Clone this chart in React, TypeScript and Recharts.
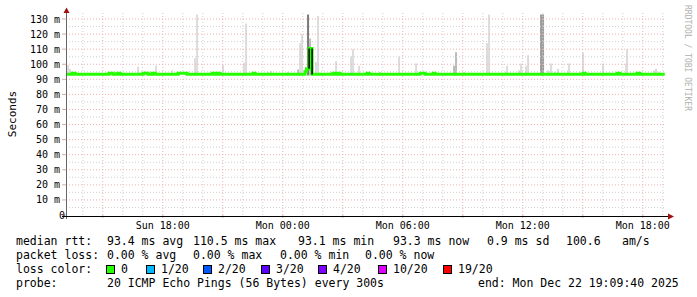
import { Bar, ComposedChart, Line, ReferenceLine, XAxis, YAxis } from "recharts"

const FONT = "'DejaVu Sans Mono', monospace"

// "Sun 13:16" -> minutes since Sun 00:00
const toMin = (s: string) =>
  (s.startsWith("Mon") ? 1440 : 0) + Number(s.slice(4, 6)) * 60 + Number(s.slice(7, 9))

// 30 hour window ending Mon 19:09:40
const xEnd = 1440 + 19 * 60 + 9 + 40 / 60
const xStart = xEnd - 30 * 60

const labelHours = ["Sun 18:00", "Mon 00:00", "Mon 06:00", "Mon 12:00", "Mon 18:00"]
const majorHours = [
  "Sun 15:00", "Sun 18:00", "Sun 21:00", "Mon 00:00", "Mon 03:00",
  "Mon 06:00", "Mon 09:00", "Mon 12:00", "Mon 15:00", "Mon 18:00",
]
const minorHours = [
  "Sun 14:00", "Sun 16:00", "Sun 17:00", "Sun 19:00", "Sun 20:00", "Sun 22:00", "Sun 23:00",
  "Mon 01:00", "Mon 02:00", "Mon 04:00", "Mon 05:00", "Mon 07:00", "Mon 08:00", "Mon 10:00",
  "Mon 11:00", "Mon 13:00", "Mon 14:00", "Mon 16:00", "Mon 17:00", "Mon 19:00",
]
const yTicks = [0, 10, 20, 30, 40, 50, 60, 70, 80, 90, 100, 110, 120, 130]
const yMinor = [5, 15, 25, 35, 45, 55, 65, 75, 85, 95, 105, 115, 125]

// median rtt (ms)
const medianTimes = [
  "Sun 13:10", "Sun 13:28", "Sun 13:37", "Sun 15:19", "Sun 15:31", "Sun 15:43", "Sun 15:52",
  "Sun 17:01", "Sun 17:16", "Sun 17:28", "Sun 17:37", "Sun 18:46", "Sun 19:13", "Sun 20:28",
  "Sun 20:37", "Sun 20:43", "Sun 20:52", "Sun 22:31", "Sun 22:37", "Mon 01:07", "Mon 01:11",
  "Mon 01:19", "Mon 01:28", "Mon 02:31", "Mon 02:37", "Mon 02:46", "Mon 02:52", "Mon 04:13",
  "Mon 04:19", "Mon 06:52", "Mon 07:07", "Mon 07:31", "Mon 07:37", "Mon 15:01", "Mon 15:07",
  "Mon 16:43", "Mon 16:52", "Mon 17:43", "Mon 17:52", "Mon 19:06",
]
const medianValues = [
  93.3, 94, 93.3, 94, 93.3, 94, 93.3,
  94, 93.3, 94, 93.3, 94, 93.3, 94,
  93.3, 94, 93.3, 94, 93.3, 95, 97,
  110.5, 93.3, 94, 93.3, 94, 93.3, 94,
  93.3, 94, 93.3, 94, 93.3, 94, 93.3,
  94, 93.3, 94, 93.3, 93.3,
]

// black edges of the median jump
const edgeTimes = ["Mon 01:19", "Mon 01:19", "Mon 01:28", "Mon 01:28"]
const edgeValues = [97, 110.5, 110.5, 93.2]

// smoke: spread of the 20 pings above the median
const smokeBase = 92.6
const smokeTimes = [
  "Sun 13:16", "Sun 13:22", "Sun 13:28", "Sun 16:46", "Sun 17:07", "Sun 17:40", "Sun 18:28",
  "Sun 19:37", "Sun 19:43", "Sun 21:01", "Sun 22:04", "Sun 22:10", "Sun 23:16", "Sun 23:25",
  "Mon 00:16", "Mon 00:46", "Mon 00:52", "Mon 00:58", "Mon 01:16", "Mon 01:22", "Mon 01:40",
  "Mon 01:46", "Mon 02:25", "Mon 02:40", "Mon 03:25", "Mon 03:31", "Mon 03:49", "Mon 04:52",
  "Mon 05:49", "Mon 06:40", "Mon 08:34", "Mon 08:40", "Mon 09:04", "Mon 10:13", "Mon 10:19",
  "Mon 11:10", "Mon 11:13", "Mon 11:49", "Mon 11:55", "Mon 12:10", "Mon 12:16", "Mon 12:55",
  "Mon 13:01", "Mon 13:16", "Mon 13:25", "Mon 13:37", "Mon 13:46", "Mon 14:16", "Mon 14:19",
  "Mon 14:52", "Mon 15:01", "Mon 16:01", "Mon 17:10", "Mon 17:13", "Mon 18:34", "Mon 18:40",
  "Mon 18:49",
]
const smokeTops = [
  99.5, 97, 95, 98.4, 95.5, 99, 96,
  104, 133, 99.5, 101, 127, 95, 95.5,
  95, 96.5, 114, 120, 133, 117, 101.5,
  132, 95, 102, 105, 110, 99, 95,
  105, 100.5, 99, 108, 95, 114, 133,
  95, 99, 96, 100.5, 99, 106, 133,
  133, 96, 100.5, 95, 97, 96, 100.5,
  95, 107.6, 100.5, 100.5, 110, 96, 97,
  95,
]
const smokeShades = [
  "l", "l", "l", "l", "l", "l", "l",
  "l", "l", "l", "l", "l", "l", "l",
  "l", "m", "l", "l", "d", "m", "l",
  "l", "l", "l", "l", "l", "l", "l",
  "l", "l", "m", "m", "l", "l", "l",
  "l", "l", "l", "l", "l", "l", "g",
  "g", "l", "l", "l", "l", "l", "l",
  "l", "l", "l", "l", "l", "l", "l",
  "l",
]
const shadeColors: { [key: string]: string } = {
  l: "#dcdcdc",
  m: "#bababa",
  g: "#9c9c9c",
  d: "#7a7a7a",
}

const rttStats = [
  [16, "median rtt:"], [107, "93.4 ms avg"], [193, "110.5 ms max"], [298, "93.1 ms min"],
  [393, "93.3 ms now"], [487, "0.9 ms sd"], [566, "100.6"], [622, "am/s"],
] as const
const lossStats = [
  [16, "packet loss:"], [107, "0.00 % avg"], [193, "0.00 % max"], [280, "0.00 % min"],
  [365, "0.00 % now"],
] as const
const lossLabels = ["0", "1/20", "2/20", "3/20", "4/20", "10/20", "19/20"]
const lossColors = ["#26ff00", "#00b8ff", "#0059ff", "#5e00ff", "#7e00ff", "#dd00ff", "#ff0000"]
const lossBoxX = [106, 146, 203, 261, 318, 378, 443]

type Row = { t: number; median?: number; edge?: number; smoke?: [number, number]; shade?: string }
const rows: Row[] = []
edgeTimes.forEach((s, i) => rows.push({ t: toMin(s), edge: edgeValues[i] }))
medianTimes.forEach((s, i) => rows.push({ t: toMin(s), median: medianValues[i] }))
smokeTimes.forEach((s, i) =>
  rows.push({ t: toMin(s), smoke: [smokeBase, smokeTops[i]], shade: smokeShades[i] })
)
rows.sort((a, b) => a.t - b.t)

const labelByMin = new Map(labelHours.map((s) => [toMin(s), s]))

function SmokeBar(props: any) {
  const { x, y, width, height, payload } = props
  if (!payload || !payload.smoke || !isFinite(y) || !isFinite(height)) return null
  const cx = x + width / 2
  const top = Math.min(y, y + height)
  return (
    <rect x={cx - 1} y={top} width={2} height={Math.abs(height)} fill={shadeColors[payload.shade]} />
  )
}

function YTick(props: any) {
  const { x, y, payload } = props
  const zero = payload.value === 0
  return (
    <text
      x={zero ? x + 5 : x}
      y={y}
      dy="0.355em"
      textAnchor="end"
      fontSize={10}
      fontFamily={FONT}
      fill="#000"
    >
      {zero ? "0" : `${payload.value} m`}
    </text>
  )
}

export default function App() {
  return (
    <div style={{ position: "absolute", left: 0, top: 0, width: 697, height: 297, background: "#fff" }}>
      <ComposedChart
        width={697}
        height={297}
        data={rows}
        margin={{ top: 13, right: 31, bottom: 0, left: 0 }}
      >
        <XAxis
          type="number"
          dataKey="t"
          domain={[xStart, xEnd]}
          allowDataOverflow
          ticks={majorHours.map(toMin)}
          interval={0}
          tickFormatter={(v) => labelByMin.get(v) ?? ""}
          axisLine={false}
          tickSize={3}
          tickMargin={4}
          tickLine={{ stroke: "#e0a8a8" }}
          height={82}
          tick={{ fontSize: 10, fontFamily: FONT, fill: "#000" }}
        />
        <YAxis
          type="number"
          domain={[0, 134]}
          allowDataOverflow
          ticks={yTicks}
          interval={0}
          width={66}
          axisLine={false}
          tickSize={4}
          tickMargin={2}
          tickLine={{ stroke: "#e0a8a8" }}
          tick={<YTick />}
        />
        {yMinor.map((v) => (
          <ReferenceLine key={"ym" + v} y={v} stroke="#d0d0d0" strokeDasharray="1 2" />
        ))}
        {minorHours.map((s) => (
          <ReferenceLine key={"xm" + s} x={toMin(s)} stroke="#d0d0d0" strokeDasharray="1 2" />
        ))}
        {yTicks.slice(1).map((v) => (
          <ReferenceLine key={"yM" + v} y={v} stroke="#f0b0b0" strokeDasharray="1 2" />
        ))}
        {majorHours.map((s) => (
          <ReferenceLine key={"xM" + s} x={toMin(s)} stroke="#f0b0b0" strokeDasharray="1 2" />
        ))}
        <Bar dataKey="smoke" barSize={2} shape={<SmokeBar />} isAnimationActive={false} />
        <Line
          dataKey="median"
          type="stepAfter"
          stroke="#26ff00"
          strokeWidth={3}
          dot={false}
          activeDot={false}
          connectNulls
          isAnimationActive={false}
        />
        <Line
          dataKey="edge"
          type="linear"
          stroke="#000"
          strokeWidth={1.5}
          dot={false}
          activeDot={false}
          isAnimationActive={false}
        />
      </ComposedChart>

      <svg
        width={697}
        height={297}
        style={{ position: "absolute", left: 0, top: 0, pointerEvents: "none" }}
        fontFamily={FONT}
      >
        {/* axes + arrows */}
        <line x1={66.5} y1={10} x2={66.5} y2={219} stroke="#666" />
        <line x1={62} y1={216.5} x2={669} y2={216.5} stroke="#000" />
        <polygon points="63.5,13 69.5,13 66.5,7.5" fill="#a01010" />
        <polygon points="668,213.5 668,219.5 674,216.5" fill="#a01010" />

        <text transform="translate(15.5,114) rotate(-90)" textAnchor="middle" fontSize={11} fill="#000">
          Seconds
        </text>
        <text transform="translate(684.5,5) rotate(90)" fontSize={8} fill="#b0b0b0">
          RRDTOOL / TOBI OETIKER
        </text>

        {rttStats.map(([x, s]) => (
          <text key={"r" + x} x={x} y={245} fontSize={11.5} fill="#000">{s}</text>
        ))}
        {lossStats.map(([x, s]) => (
          <text key={"p" + x} x={x} y={259} fontSize={11.5} fill="#000">{s}</text>
        ))}
        <text x={16} y={273} fontSize={11.5} fill="#000">loss color:</text>
        {lossLabels.map((s, i) => (
          <g key={"c" + s}>
            <rect x={lossBoxX[i] + 0.5} y={265.5} width={8} height={8} fill={lossColors[i]} stroke="#000" />
            <text x={lossBoxX[i] + 15} y={273} fontSize={11.5} fill="#000">{s}</text>
          </g>
        ))}
        <text x={16} y={287} fontSize={11.5} fill="#000">probe:</text>
        <text x={107} y={287} fontSize={11.5} fill="#000">20 ICMP Echo Pings (56 Bytes) every 300s</text>
        <text x={478} y={287} fontSize={11.5} fill="#000">end: Mon Dec 22 19:09:40 2025</text>
      </svg>
    </div>
  )
}
